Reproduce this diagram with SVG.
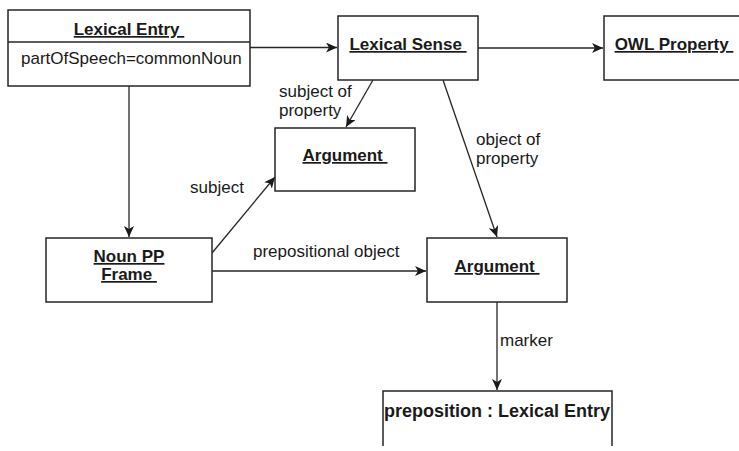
<svg xmlns="http://www.w3.org/2000/svg" width="739" height="451" viewBox="0 0 739 451">
<defs>
<style>
.box{fill:#fff;stroke:#262626;stroke-width:1.5}
.edge{fill:none;stroke:#262626;stroke-width:1.3}
.t{font-family:"Liberation Sans",Arial,sans-serif;font-size:17px;fill:#1a1a1a;white-space:pre}
.b{font-weight:bold}
.u{text-decoration:underline}
.m{text-anchor:middle}
</style>
<marker id="arr" markerUnits="userSpaceOnUse" markerWidth="12" markerHeight="10" refX="11" refY="5" orient="auto">
<path d="M0,0 L11,5 L0,10 L3,5 z" fill="#1a1a1a"/>
</marker>
</defs>
<g id="connectors">
<line class="edge" x1="250" y1="47.5" x2="337" y2="47.5" marker-end="url(#arr)"/>
<line class="edge" x1="478" y1="48" x2="603" y2="48" marker-end="url(#arr)"/>
<line class="edge" x1="129" y1="86" x2="129" y2="237" marker-end="url(#arr)"/>
<line class="edge" x1="373" y1="80" x2="346" y2="127" marker-end="url(#arr)"/>
<line class="edge" x1="443" y1="80" x2="497" y2="237" marker-end="url(#arr)"/>
<line class="edge" x1="212" y1="253" x2="275" y2="177" marker-end="url(#arr)"/>
<line class="edge" x1="212" y1="271" x2="426" y2="271" marker-end="url(#arr)"/>
<line class="edge" x1="497" y1="302" x2="497" y2="390" marker-end="url(#arr)"/>
<text class="t" x="279" y="97">subject of</text>
<text class="t" x="279" y="116">property</text>
<text class="t" x="476" y="145">object of</text>
<text class="t" x="476" y="164">property</text>
<text class="t" x="190" y="193">subject</text>
<text class="t" x="253" y="257">prepositional object</text>
<text class="t" x="500" y="346">marker</text>
</g>
<g id="lexical-entry">
<rect class="box" x="8" y="10" width="242" height="76"/>
<line class="edge" x1="8" y1="42" x2="250" y2="42" style="stroke-width:1.5"/>
<text class="t b u m" x="129" y="35">Lexical Entry </text>
<text class="t" x="21" y="64">partOfSpeech=commonNoun</text>
</g>
<g id="lexical-sense">
<rect class="box" x="338" y="16" width="140" height="64"/>
<text class="t b u m" x="408" y="50">Lexical Sense </text>
</g>
<g id="owl-property">
<rect class="box" x="604" y="16" width="140" height="64"/>
<text class="t b u m" x="674" y="50">OWL Property </text>
</g>
<g id="argument-subject">
<rect class="box" x="275" y="128" width="140" height="63"/>
<text class="t b u m" x="345" y="161">Argument </text>
</g>
<g id="noun-pp-frame">
<rect class="box" x="46" y="238" width="166" height="64"/>
<text class="t b u m" x="129" y="262">Noun PP</text>
<text class="t b u m" x="129" y="280">Frame </text>
</g>
<g id="argument-object">
<rect class="box" x="427" y="238" width="140" height="64"/>
<text class="t b u m" x="497" y="272">Argument </text>
</g>
<g id="preposition">
<path class="box" d="M383,446 V391 H612 V446"/>
<text class="t b m" x="497" y="417" style="font-size:18px">preposition : Lexical Entry</text>
</g>
</svg>
